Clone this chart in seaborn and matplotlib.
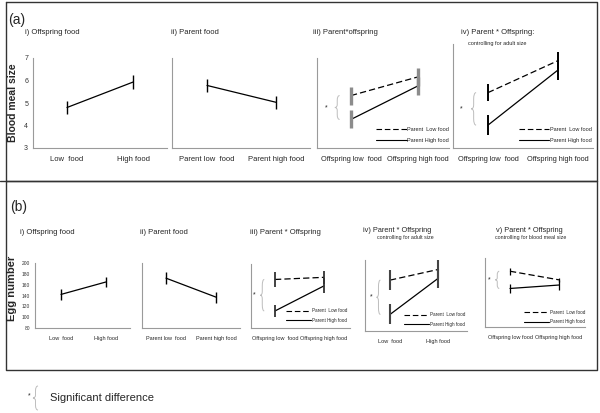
import numpy as np
import pandas as pd
import matplotlib.pyplot as plt
from matplotlib.lines import Line2D
from matplotlib.path import Path
from matplotlib.patches import PathPatch
import seaborn as sns

# ===== DATA =====
# (a) Blood meal size
a_i_cats = ['Low  food', 'High food']
a_i_mean = [4.8, 5.93]
a_i_err = [0.3, 0.3]

a_ii_cats = ['Parent low  food', 'Parent high food']
a_ii_mean = [5.78, 5.03]
a_ii_err = [0.3, 0.3]

a_iii_cats = ['Offspring low  food', 'Offspring high food']
a_iii_low = [5.33, 6.16]      # parent low food (dashed)
a_iii_low_err = [0.4, 0.4]
a_iii_high = [4.27, 5.76]     # parent high food (solid)
a_iii_high_err = [0.4, 0.4]

a_iv_cats = ['Offspring low  food', 'Offspring high food']
a_iv_low = [5.13, 6.36]
a_iv_low_err = [0.32, 0.34]
a_iv_high = [3.88, 6.0]
a_iv_high_err = [0.38, 0.4]

a_yticks = [3, 4, 5, 6, 7]

# (b) Egg number
b_i_cats = ['Low  food', 'High food']
b_i_mean = [142, 165]
b_i_err = [10, 10]

b_ii_cats = ['Parent low  food', 'Parent high food']
b_ii_mean = [172, 137]
b_ii_err = [11, 10]

b_iii_cats = ['Offspring low  food', 'Offspring high food']
b_iii_low = [171, 175]
b_iii_low_err = [14, 12]
b_iii_high = [112, 159]
b_iii_high_err = [11, 14]

b_iv_cats = ['Low  food', 'High food']
b_iv_low = [166, 184]
b_iv_low_err = [17, 16]
b_iv_high = [108, 169]
b_iv_high_err = [17, 16]

b_v_cats = ['Offspring low food', 'Offspring high food']
b_v_low = [177, 162]
b_v_low_err = [6, 4]
b_v_high = [147, 153]
b_v_high_err = [8, 8]

b_yticks = [80, 100, 120, 140, 160, 180, 200]

legend_labels = ['Parent  Low food', 'Parent High food']

# ===== STYLE =====
sns.set_style('white')
plt.rcParams['font.family'] = ['Liberation Sans', 'DejaVu Sans']

W, H = 600, 413
fig = plt.figure(figsize=(6, 4.13), dpi=100)
fig.patch.set_facecolor('white')

AXIS_COLOR = '#9a9a9a'
BRACE_COLOR = '#bdbdbd'


def fx(x):
    return x / W


def fy(y):
    return 1 - y / H


def add_axes_px(x0, y0, x1, y1):
    return fig.add_axes([fx(x0), fy(y1), (x1 - x0) / W, (y1 - y0) / H])


def style_axes(ax, cats, xlim, yticks, show_ylabels, xfs, yfs):
    sns.despine(ax=ax)
    for s in ['left', 'bottom']:
        ax.spines[s].set_color(AXIS_COLOR)
        ax.spines[s].set_linewidth(0.8)
    ax.set_xlim(*xlim)
    ax.set_ylim(yticks[0], yticks[-1])
    ax.set_xticks(range(len(cats)))
    ax.set_xticklabels(cats, fontsize=xfs)
    ax.set_xticks([0.5], minor=True)
    ax.tick_params(axis='x', which='major', length=0, pad=6)
    ax.tick_params(axis='x', which='minor', length=2, color=AXIS_COLOR)
    ax.set_yticks(yticks)
    if show_ylabels:
        ax.set_yticklabels([str(t) for t in yticks], fontsize=yfs, color='#333333')
    else:
        ax.set_yticklabels([])
    ax.tick_params(axis='y', length=2, color=AXIS_COLOR, pad=1.5)
    ax.set_xlabel('')
    ax.set_ylabel('')
    ax.patch.set_alpha(0)


def single_panel(ax, cats, mean, err, elw=1.0):
    df = pd.DataFrame({'pos': range(len(cats)), 'value': mean})
    sns.lineplot(data=df, x='pos', y='value', color='black', linewidth=0.9, ax=ax)
    ax.errorbar(df['pos'], df['value'], yerr=err, fmt='none',
                ecolor='black', elinewidth=elw, capsize=0)


def draw_brace(ax, x, y0, y1, w, transform=None, lw=0.7):
    mid = (y0 + y1) / 2
    h = y1 - y0
    xm = x + w / 2
    verts = [(x + w, y1), (xm, y1), (xm, y1 - 0.2 * h),
             (xm, mid + 0.12 * h), (xm, mid), (x, mid),
             (xm, mid), (xm, mid - 0.12 * h),
             (xm, y0 + 0.2 * h), (xm, y0), (x + w, y0)]
    codes = [Path.MOVETO, Path.CURVE3, Path.CURVE3,
             Path.LINETO, Path.CURVE3, Path.CURVE3,
             Path.CURVE3, Path.CURVE3,
             Path.LINETO, Path.CURVE3, Path.CURVE3]
    patch = PathPatch(Path(verts, codes), fill=False, edgecolor=BRACE_COLOR,
                      linewidth=lw, transform=transform or ax.transData,
                      clip_on=False)
    ax.add_patch(patch) if transform is None else fig.add_artist(patch)


def pair_panel(ax, cats, low, low_err, high, high_err, ecolor, elw,
               brace_x, brace_w, star_x, legend_fs, legend_anchor):
    n = len(cats)
    df = pd.DataFrame({
        'pos': list(range(n)) * 2,
        'value': low + high,
        'group': [legend_labels[0]] * n + [legend_labels[1]] * n,
    })
    sns.lineplot(data=df, x='pos', y='value', style='group',
                 dashes={legend_labels[0]: (5, 2.5), legend_labels[1]: ''},
                 color='black', linewidth=0.9, ax=ax, legend=False)
    ax.errorbar(range(n), low, yerr=low_err, fmt='none', ecolor=ecolor,
                elinewidth=elw, capsize=0)
    ax.errorbar(range(n), high, yerr=high_err, fmt='none', ecolor=ecolor,
                elinewidth=elw, capsize=0)
    # significance brace between the two low-food means
    draw_brace(ax, brace_x, high[0], low[0], brace_w)
    ax.text(star_x, (high[0] + low[0]) / 2, '*', fontsize=5,
            ha='center', va='center')
    handles = [Line2D([], [], color='black', lw=0.8, dashes=(5, 2.5)),
               Line2D([], [], color='black', lw=0.8)]
    ax.legend(handles, legend_labels, loc='lower right',
              bbox_to_anchor=legend_anchor, frameon=False,
              fontsize=legend_fs, handlelength=5.5, handletextpad=0.1,
              labelspacing=1.0, borderaxespad=0, borderpad=0)


# ===== PANEL (a) =====
ax = add_axes_px(33, 58, 167, 148)
single_panel(ax, a_i_cats, a_i_mean, a_i_err)
style_axes(ax, a_i_cats, (-0.515, 1.515), a_yticks, True, 5.5, 5)

ax = add_axes_px(172, 58, 310, 148)
single_panel(ax, a_ii_cats, a_ii_mean, a_ii_err)
style_axes(ax, a_ii_cats, (-0.507, 1.49), a_yticks, False, 5.5, 5)

ax = add_axes_px(317, 58, 449, 148)
pair_panel(ax, a_iii_cats, a_iii_low, a_iii_low_err, a_iii_high,
           a_iii_high_err, '#8c8c8c', 2.4, -0.24, 0.07, -0.37, 4,
           (1.0, 0.06))
style_axes(ax, a_iii_cats, (-0.507, 1.463), a_yticks, False, 5.3, 5)

ax = add_axes_px(453, 44, 593, 148)
pair_panel(ax, a_iv_cats, a_iv_low, a_iv_low_err, a_iv_high,
           a_iv_high_err, 'black', 1.4, -0.24, 0.07, -0.38, 4,
           (0.99, 0.05))
style_axes(ax, a_iv_cats, (-0.5, 1.5), a_yticks, False, 5.3, 5)

# ===== PANEL (b) =====
ax = add_axes_px(35, 263, 130, 328)
single_panel(ax, b_i_cats, b_i_mean, b_i_err)
style_axes(ax, b_i_cats, (-0.578, 1.533), b_yticks, True, 4, 3.5)

ax = add_axes_px(142, 263, 240, 328)
single_panel(ax, b_ii_cats, b_ii_mean, b_ii_err)
style_axes(ax, b_ii_cats, (-0.48, 1.48), b_yticks, False, 4, 3.5)

ax = add_axes_px(251, 264, 350, 328)
pair_panel(ax, b_iii_cats, b_iii_low, b_iii_low_err, b_iii_high,
           b_iii_high_err, '#333333', 1.3, -0.3, 0.08, -0.43, 3.3,
           (0.97, 0.08))
style_axes(ax, b_iii_cats, (-0.49, 1.53), b_yticks, False, 4, 3.5)

ax = add_axes_px(365, 260, 467, 331)
pair_panel(ax, b_iv_cats, b_iv_low, b_iv_low_err, b_iv_high,
           b_iv_high_err, '#444444', 1.5, -0.28, 0.08, -0.4, 3.3,
           (0.98, 0.06))
style_axes(ax, b_iv_cats, (-0.52, 1.6), b_yticks, False, 4, 3.5)

ax = add_axes_px(485, 258, 585, 327)
pair_panel(ax, b_v_cats, b_v_low, b_v_low_err, b_v_high,
           b_v_high_err, 'black', 0.9, -0.3, 0.08, -0.42, 3.3,
           (1.0, 0.04))
style_axes(ax, b_v_cats, (-0.51, 1.53), b_yticks, False, 4, 3.5)

# ===== TEXT =====
def ftext(x, y, s, **kw):
    fig.text(fx(x), fy(y), s, va='center', **kw)


ftext(8, 20, '(a)', fontsize=10)
ftext(25, 33, 'i) Offspring food', fontsize=5.5)
ftext(171, 33, 'ii) Parent food', fontsize=5.5)
ftext(313, 33, 'iii) Parent*offspring', fontsize=5.5)
ftext(461, 32, 'iv) Parent * Offspring:', fontsize=5.5)
ftext(468, 43, 'controlling for adult size', fontsize=4)
ftext(13, 103, 'Blood meal size', fontsize=7.5, fontweight='bold',
      rotation=90, ha='center')

ftext(10, 207, '(b)', fontsize=10)
ftext(20, 232, 'i) Offspring food', fontsize=5.5)
ftext(140, 232, 'ii) Parent food', fontsize=5.5)
ftext(250, 232, 'iii) Parent * Offspring', fontsize=5.5)
ftext(363, 230, 'iv) Parent * Offspring', fontsize=5.3)
ftext(377, 238, 'controlling for adult size', fontsize=3.8)
ftext(496, 230, 'v) Parent * Offspring', fontsize=5.3)
ftext(495, 238, 'controlling for blood meal size', fontsize=3.8)
ftext(12, 288, 'Egg number', fontsize=8, fontweight='bold',
      rotation=90, ha='center')

# significance key
ftext(29, 396, '*', fontsize=5, ha='center')
draw_brace(None, fx(33), fy(410), fy(386), fx(5), transform=fig.transFigure)
ftext(50, 398, 'Significant difference', fontsize=8)

# panel frames
for (x0, y0, x1, y1) in [(6, 2, 597, 181), (6, 181, 597, 370)]:
    xs = [fx(x0), fx(x1), fx(x1), fx(x0), fx(x0)]
    ys = [fy(y0), fy(y0), fy(y1), fy(y1), fy(y0)]
    fig.add_artist(Line2D(xs, ys, color='#333333', lw=1.0))
fig.add_artist(Line2D([0, fx(6)], [fy(181), fy(181)], color='#333333', lw=1.0))

plt.savefig('out.png', dpi=100)
plt.close()
